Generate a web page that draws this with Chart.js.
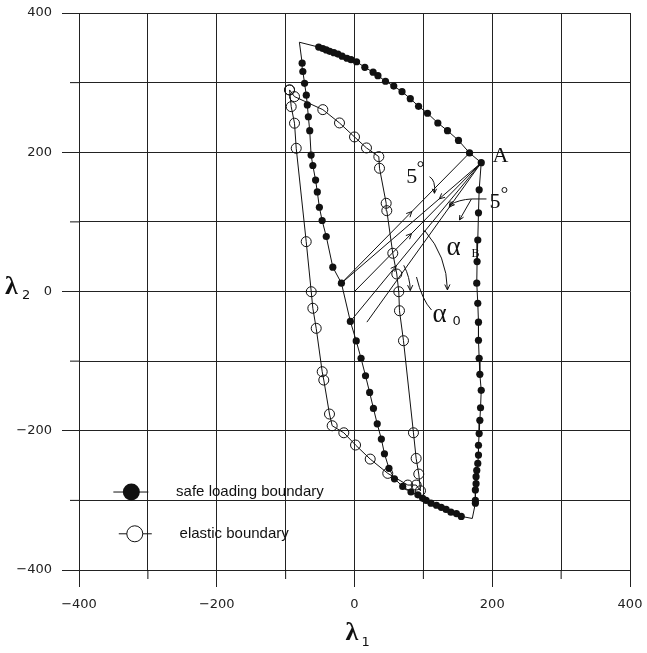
<!DOCTYPE html>
<html>
<head>
<meta charset="utf-8">
<script src="https://cdn.jsdelivr.net/npm/chart.js@4.4.0/dist/chart.umd.min.js"></script>
<style>
  html, body { margin: 0; padding: 0; background: #fff; }
  canvas { display: block; }
</style>
</head>
<body>
<canvas id="lambda_chart" width="647" height="653"></canvas>
<script>
// axis ticks
var tickMin = -400;
var tickMax = 400;
var tickStep = 100;

// safe loading boundary: two bare corners + the dotted stretches, in drawing order
var safeCornerX = [-80, 171];
var safeCornerY = [358, -326];
var safeTopX = [-52, -46, -41, -36, -30, -24, -18, -11, -5, 3, 15, 27, 34, 45, 57, 69, 81, 93, 106, 121, 135, 151, 167, 184];
var safeTopY = [351, 349, 347, 345, 343, 341, 338, 335, 333, 330, 322, 315, 310, 302, 295, 287, 277, 266, 256, 242, 231, 217, 199, 185];
var safeRightX = [181, 180, 179, 178, 177.5, 179, 180, 180, 181, 182, 184, 183, 182, 181, 180, 180, 179, 177.5, 176.5, 176.5, 175.5, 175.5, 175.5];
var safeRightY = [146, 113, 74, 43, 12, -17, -44, -70, -96, -119, -142, -167, -185, -204, -221, -235, -247, -257, -266, -276, -285, -300, -304];
var safeBottomX = [155, 148, 140, 133, 126, 119, 111, 104, 99, 92, 82, 70, 58, 50, 43.5, 39, 33, 27.5, 22, 16, 9.5, 2.5, -6];
var safeBottomY = [-323, -319, -317, -313, -310, -307, -304, -300, -297, -292, -288, -280, -269, -254, -233, -212, -190, -168, -145, -121, -96, -71, -43];
var safeLeftX = [-19, -31.5, -41, -47, -51, -54, -56.5, -60.5, -63, -65, -67, -68.5, -70, -72.5, -75, -76];
var safeLeftY = [12, 35, 79, 102, 121, 143, 160, 181, 196, 231, 251, 268, 282, 299, 316, 328];

// elastic boundary (open circles), closed loop from the top-left corner
var elasticX = [-94.3, -91.9, -87.1, -84.6, -70.1, -62.8, -60.5, -55.6, -46.9, -44.6, -36.3, -32.4,
  -15.5, 1.5, 22.8, 48.3, 77.4, 89.5, 95.8,
  93.3, 89.5, 85.6, 71.1, 65.3, 64.3, 61.4, 55.6, 46.9, 46, 36.3, 35.3,
  17.4, 0, -21.8, -46, -87.1, -94.3];
var elasticY = [289.5, 265.5, 241.7, 205.7, 71.6, -0.3, -24.1, -52.9, -115.2, -127.2, -176, -192.8,
  -202.9, -220.5, -240.7, -261.2, -278, -278, -286.2,
  -262.2, -239.7, -202.9, -70.7, -27.6, -0.3, 25.1, 54.9, 116.1, 126.7, 177, 193.7,
  206.2, 222, 242.1, 261.2, 279.9, 289.5];

// straight loading / unloading paths towards point A
var pathStartX = [-19, -19, 0, -6, 18];
var pathStartY = [12, 12, 0, -43, -44];
var pathEndX = [167, 184, 184, 184, 184];
var pathEndY = [199, 185, 185, 185, 185];

function toPoints(xs, ys) {
  return xs.map(function (v, i) { return { x: v, y: ys[i] }; });
}

var safeDots = toPoints(safeTopX, safeTopY)
  .concat(toPoints(safeRightX, safeRightY))
  .concat(toPoints(safeBottomX, safeBottomY))
  .concat(toPoints(safeLeftX, safeLeftY));
var corners = toPoints(safeCornerX, safeCornerY);
var safeOutline = [corners[0]]
  .concat(toPoints(safeTopX, safeTopY))
  .concat(toPoints(safeRightX, safeRightY))
  .concat([corners[1]])
  .concat(toPoints(safeBottomX, safeBottomY))
  .concat(toPoints(safeLeftX, safeLeftY))
  .concat([corners[0]]);

var datasets = [
  {
    label: "safe outline",
    data: safeOutline,
    showLine: true,
    borderColor: "#111",
    borderWidth: 1,
    pointRadius: 0,
  },
  {
    label: "safe loading boundary",
    data: safeDots,
    showLine: false,
    backgroundColor: "#111",
    borderWidth: 0,
    pointRadius: 3.6,
  },
  {
    label: "elastic boundary",
    data: toPoints(elasticX, elasticY),
    showLine: true,
    borderColor: "#111",
    borderWidth: 1,
    backgroundColor: "rgba(255,255,255,0)",
    pointBorderColor: "#111",
    pointBorderWidth: 1,
    pointRadius: 5,
  },
];
pathStartX.forEach(function (v, i) {
  datasets.push({
    label: "path " + i,
    data: [{ x: v, y: pathStartY[i] }, { x: pathEndX[i], y: pathEndY[i] }],
    showLine: true,
    borderColor: "#111",
    borderWidth: 1,
    pointRadius: 0,
  });
});

function tickText(v) {
  if (v % 200 !== 0) return "";
  return v < 0 ? "\u2212" + (-v) : String(v);
}
function majorColor(c) {
  return c.tick && c.tick.value % 200 === 0 ? "#222" : "rgba(0,0,0,0)";
}

function chevron(ctx, x, y, ang, len) {
  ctx.beginPath();
  ctx.moveTo(x - len * Math.cos(ang - 0.45), y - len * Math.sin(ang - 0.45));
  ctx.lineTo(x, y);
  ctx.lineTo(x - len * Math.cos(ang + 0.45), y - len * Math.sin(ang + 0.45));
  ctx.stroke();
}

var annot = {
  id: "annot",
  beforeDraw: function (chart) {
    var ctx = chart.ctx;
    ctx.save();
    ctx.fillStyle = "#fff";
    ctx.fillRect(0, 0, chart.width, chart.height);
    ctx.restore();
  },
  afterDraw: function (chart) {
    var ctx = chart.ctx;
    var xs = chart.scales.x, ys = chart.scales.y;
    var area = chart.chartArea;
    function px(v) { return xs.getPixelForValue(v); }
    function py(v) { return ys.getPixelForValue(v); }
    ctx.save();
    ctx.strokeStyle = "#111";
    ctx.fillStyle = "#111";
    ctx.lineWidth = 1;

    // short minor ticks
    [-300, -100, 100, 300].forEach(function (v) {
      ctx.beginPath();
      ctx.moveTo(px(v), area.bottom);
      ctx.lineTo(px(v), area.bottom + 9);
      ctx.moveTo(area.left - 9, py(v));
      ctx.lineTo(area.left, py(v));
      ctx.stroke();
    });

    // arrow heads on the paths
    var arrowAt = [[0, 0.55, 1], [1, 0.7, -1], [2, 0.45, 1], [3, 0.35, 1], [4, 0.72, -1]];
    arrowAt.forEach(function (a) {
      var i = a[0], t = a[1];
      var x0 = px(pathStartX[i]), y0 = py(pathStartY[i]);
      var x1 = px(pathEndX[i]), y1 = py(pathEndY[i]);
      var ang = Math.atan2(y1 - y0, x1 - x0);
      if (a[2] < 0) ang += Math.PI;
      chevron(ctx, x0 + (x1 - x0) * t, y0 + (y1 - y0) * t, ang, 6);
    });

    // angle arcs centred on the origin
    var cx = px(0), cy = py(0);
    [[135, 41, 1], [81, 28, 1]].forEach(function (a) {
      var r = px(a[0]) - cx;
      var s = -a[1] * Math.PI / 180, e = -a[2] * Math.PI / 180;
      ctx.beginPath();
      ctx.arc(cx, cy, r, s, e, false);
      ctx.stroke();
      chevron(ctx, cx + r * Math.cos(e), cy + r * Math.sin(e), e + Math.PI / 2, 6);
    });

    // alpha_0 leader
    ctx.beginPath();
    ctx.moveTo(px(111.8), py(-26.6));
    ctx.quadraticCurveTo(px(98), py(-12), px(90), py(20.8));
    ctx.stroke();

    // 5 degree markers
    ctx.beginPath();
    ctx.moveTo(px(108.9), py(164.9));
    ctx.quadraticCurveTo(px(118), py(160), px(116.1), py(141.1));
    ctx.stroke();
    chevron(ctx, px(116.1), py(141.1), Math.PI / 2, 5);
    ctx.beginPath();
    ctx.moveTo(px(191.6), py(132.9));
    ctx.lineTo(px(169.8), py(132.9));
    ctx.quadraticCurveTo(px(152), py(132), px(137.9), py(124.3));
    ctx.moveTo(px(169.8), py(132.9));
    ctx.lineTo(px(152.4), py(102.7));
    ctx.stroke();
    chevron(ctx, px(137.9), py(124.3), Math.atan2(py(124.3) - py(130), px(137.9) - px(150)), 5);
    chevron(ctx, px(152.4), py(102.7), Math.atan2(py(102.7) - py(132.9), px(152.4) - px(169.8)), 5);

    // text annotations
    ctx.textAlign = "left";
    ctx.textBaseline = "alphabetic";
    ctx.font = '22px "Liberation Serif"';
    ctx.fillText("A", px(200.3), py(186));
    ctx.fillText("5", px(75), py(156));
    ctx.fillText("5", px(196), py(120));
    ctx.beginPath();
    ctx.arc(px(95.8), py(183), 2.5, 0, 2 * Math.PI);
    ctx.stroke();
    ctx.beginPath();
    ctx.arc(px(217.7), py(145.8), 2.5, 0, 2 * Math.PI);
    ctx.stroke();
    ctx.font = '27px "Liberation Serif"';
    ctx.fillText("\u03b1", px(133.5), py(52.4));
    ctx.fillText("\u03b1", px(113.2), py(-43.4));
    ctx.font = '12px "Liberation Serif"';
    ctx.fillText("B", px(169.8), py(49.6));
    ctx.font = '13px "DejaVu Sans"';
    ctx.fillText("0", px(142.2), py(-48.1));

    // legend box inside the plot
    var lx1 = px(-324), ly1 = py(-288);
    var lx2 = px(-319), ly2 = py(-348);
    ctx.beginPath();
    ctx.moveTo(lx1 - 18, ly1); ctx.lineTo(lx1 + 17, ly1);
    ctx.moveTo(lx2 - 16, ly2); ctx.lineTo(lx2 + 17, ly2);
    ctx.stroke();
    ctx.beginPath();
    ctx.arc(lx1, ly1, 8.5, 0, 2 * Math.PI);
    ctx.fill();
    ctx.beginPath();
    ctx.arc(lx2, ly2, 8, 0, 2 * Math.PI);
    ctx.fillStyle = "#fff";
    ctx.fill();
    ctx.stroke();
    ctx.fillStyle = "#111";
    ctx.font = '15px "Liberation Sans"';
    ctx.textBaseline = "middle";
    ctx.fillText("safe loading boundary", px(-259), ly1);
    ctx.fillText("elastic boundary", px(-254), ly2);

    // axis titles with subscripts
    ctx.textBaseline = "alphabetic";
    ctx.font = 'bold 26px "Liberation Serif"';
    ctx.fillText("\u03bb", px(0) - 9, 640);
    ctx.fillText("\u03bb", 5, py(0) + 2);
    ctx.font = '13px "DejaVu Sans"';
    ctx.fillText("1", px(0) + 7, 646);
    ctx.fillText("2", 22, py(0) + 7);
    ctx.restore();
  },
};

var ctx = document.getElementById("lambda_chart").getContext("2d");
var lambda_chart = new Chart(ctx, {
  type: "scatter",
  data: { datasets: datasets },
  plugins: [annot],
  options: {
    responsive: false,
    animation: false,
    layout: { padding: { left: 0, right: 17, top: 13, bottom: 0 } },
    plugins: {
      legend: { display: false },
      tooltip: { enabled: false },
    },
    scales: {
      x: {
        type: "linear",
        min: tickMin,
        max: tickMax,
        afterFit: function (scale) {
          scale.height = 83;
          scale.paddingLeft = 0;
          scale.paddingRight = 0;
        },
        ticks: {
          stepSize: tickStep,
          autoSkip: false,
          maxRotation: 0,
          padding: 10,
          color: "#222",
          font: { family: "DejaVu Sans", size: 13 },
          callback: tickText,
        },
        grid: { color: "#222", lineWidth: 1, tickLength: 17, tickColor: majorColor },
        border: { display: true, color: "#222", width: 1 },
      },
      y: {
        type: "linear",
        min: tickMin,
        max: tickMax,
        afterFit: function (scale) {
          scale.width = 79;
          scale.paddingTop = 0;
          scale.paddingBottom = 0;
        },
        ticks: {
          stepSize: tickStep,
          autoSkip: false,
          padding: 10,
          color: "#222",
          font: { family: "DejaVu Sans", size: 13 },
          callback: tickText,
        },
        grid: { color: "#222", lineWidth: 1, tickLength: 17, tickColor: majorColor },
        border: { display: true, color: "#222", width: 1 },
      },
    },
  },
});
</script>
</body>
</html>
